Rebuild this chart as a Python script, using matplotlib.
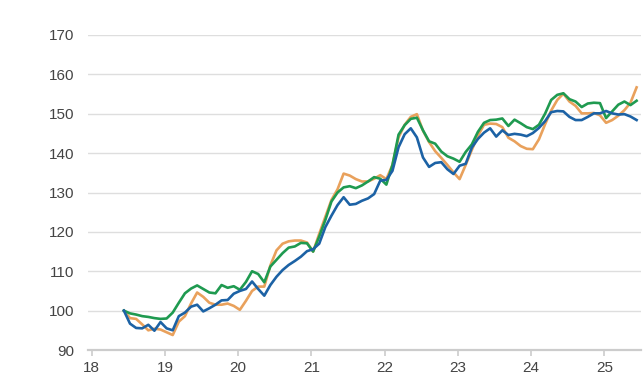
import numpy as np
import matplotlib
matplotlib.use('Agg')
import matplotlib.pyplot as plt

# monthly index values, mid-2018 onwards
start_year = 18.44
blue = [100, 96.7, 95.6, 95.5, 96.4, 94.9, 97.1, 95.5, 95.0, 98.6,
        99.5, 101, 101.5, 99.8, 100.6, 101.5, 102.6, 102.7, 104.3, 105.0,
        105.5, 107.4, 105.5, 103.8, 106.5, 108.6, 110.3, 111.6, 112.6, 113.7,
        115.1, 115.6, 117, 121.2, 124.1, 126.8, 128.8, 126.9, 127.1, 127.9,
        128.5, 129.6, 133, 133.2, 135.5, 141.5, 144.8, 146.3, 144, 138.9,
        136.5, 137.5, 137.7, 135.9, 134.7, 136.8, 137.3, 141.4, 143.6, 145.2,
        146.3, 144.2, 145.8, 144.6, 144.9, 144.7, 144.3, 145.1, 146.4, 148.1,
        150.4, 150.7, 150.6, 149.2, 148.4, 148.4, 149.2, 150.1, 150.1, 150.7,
        150.1, 149.8, 149.9, 149.3, 148.4]
green = [100, 99.3, 99.0, 98.6, 98.4, 98.1, 97.9, 98.0, 99.5, 102,
         104.4, 105.6, 106.4, 105.5, 104.6, 104.4, 106.5, 105.8, 106.2, 105.3,
         107.3, 110, 109.3, 107.2, 111.2, 112.9, 114.6, 116, 116.3, 117.2,
         117.1, 115, 118.8, 123, 127.7, 130, 131.3, 131.6, 131.1, 131.8,
         132.8, 133.9, 133.5, 132, 137, 144.7, 147.1, 148.7, 149, 145.8,
         143, 142.4, 140.4, 139.2, 138.6, 137.8, 140.3, 142.2, 145.4, 147.7,
         148.4, 148.5, 148.8, 146.9, 148.5, 147.6, 146.6, 146.1, 147.2, 150,
         153.5, 154.8, 155.2, 153.7, 153.1, 151.7, 152.6, 152.8, 152.7, 148.9,
         150.6, 152.3, 153.1, 152.2, 153.3]
orange = [100, 98.1, 97.9, 96.5, 95, 95.4, 95.2, 94.5, 93.8, 97.2,
          98.6, 101.8, 104.6, 103.5, 102, 101.5, 101.5, 101.8, 101.2, 100.2,
          102.5, 105, 106.1, 106.1, 111.5, 115.3, 117, 117.6, 117.8, 117.8,
          117.3, 115, 119.5, 123.8, 128.1, 130.8, 134.8, 134.3, 133.4, 132.8,
          132.8, 133.5, 134.4, 133.4, 137, 144, 147.2, 149.2, 149.9, 145.7,
          142.8, 140.5, 138.8, 137, 135.1, 133.4, 137, 140.8, 144.4, 147.2,
          147.5, 147.4, 146.6, 143.9, 143, 141.8, 141.1, 141, 143.5, 147.3,
          150.8, 153.5, 155.1, 153.1, 152, 150.1, 150.1, 150.2, 149.6, 147.7,
          148.4, 149.5, 150.9, 152.8, 156.7]
x_ticks = [18, 19, 20, 21, 22, 23, 24, 25]
y_ticks = [90, 100, 110, 120, 130, 140, 150, 160, 170]

x = start_year + np.arange(len(blue)) / 12

plt.rcParams['font.family'] = ['Liberation Sans', 'DejaVu Sans']
fig = plt.figure(figsize=(6.44, 3.92), dpi=100)
ax = fig.add_axes([88 / 644, 1 - 350 / 392, 553 / 644, 315 / 392])

ax.plot(x, orange, color='#e9a15c', lw=1.9)
ax.plot(x, green, color='#1f9a50', lw=1.9)
ax.plot(x, blue, color='#1c62a5', lw=1.9)

ax.set_xlim(17.95, 25.5)
ax.set_ylim(90, 170)
ax.set_xticks(x_ticks)
ax.set_yticks(y_ticks)
ax.set_xticklabels([str(t) for t in x_ticks])
ax.grid(axis='y', color='#dedede', lw=1)
ax.set_axisbelow(True)
for s in ['top', 'right', 'left']:
    ax.spines[s].set_visible(False)
ax.spines['bottom'].set_color('#cccccc')
ax.spines['bottom'].set_linewidth(1.6)
ax.tick_params(axis='y', length=0, pad=10, labelsize=11, labelcolor='#444444')
ax.tick_params(axis='x', length=4, color='#cccccc', width=1.2, pad=4,
               labelsize=11, labelcolor='#444444')

fig.savefig('out.png', dpi=100)
